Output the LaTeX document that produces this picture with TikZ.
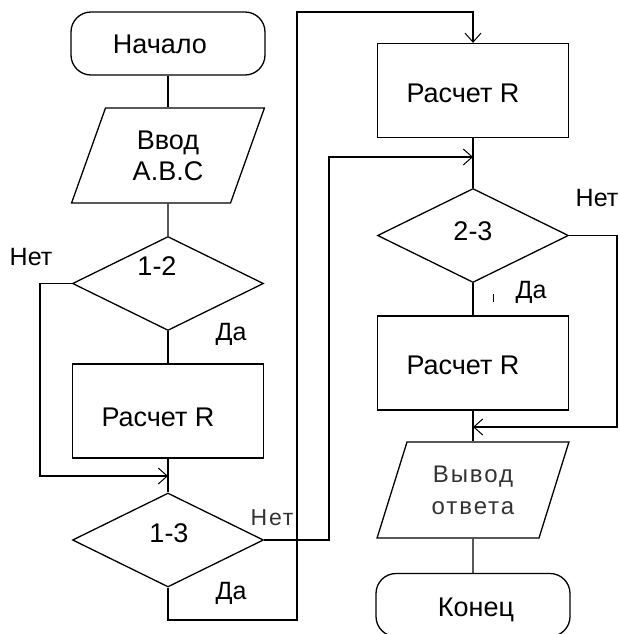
\documentclass[tikz,border=0pt]{standalone}
\usepackage{fontspec}
\setmainfont{Liberation Sans}
\newfontfamily\spacedfont[LetterSpace=8]{Liberation Sans}
\usetikzlibrary{shapes.geometric,arrows.meta}
\begin{document}
\begin{tikzpicture}[x=1pt,y=-1pt,
  font=\fontsize{26}{30}\selectfont,
  line width=1.3pt,
  every node/.style={inner sep=0pt},
  terminal/.style={draw, rectangle, rounded corners=20pt, minimum width=194pt, minimum height=63pt},
  proc/.style={draw, rectangle, minimum width=191pt, minimum height=94pt},
  io/.style={draw, trapezium, trapezium left angle=69, trapezium right angle=111,
    trapezium stretches=true, minimum width=193pt, minimum height=95pt, align=center},
  decide/.style={draw, diamond, minimum width=191pt, minimum height=94pt},
  txt/.style={font=\fontsize{27}{31}\selectfont},
  lbl/.style={font=\fontsize{25}{30}\selectfont},
  lbllight/.style={font=\spacedfont\fontsize{23}{28}\selectfont, text=black!80},
  arr/.style={-{Straight Barb[length=9pt,width=16pt,line width=1pt]}}
]
\useasboundingbox (0,0) rectangle (619,634);

% left column
\node[terminal, label={[txt,shift={(-8,1)}]center:Начало}] (start) at (168,43.5) {};
\node[io, txt] (in) at (168,155.5) {Ввод\\A.B.C};
\node[decide, label={[txt,shift={(-11,-17)}]center:1-2}] (d12) at (168,283.5) {};
\node[proc, label={[txt,shift={(-10,6)}]center:Расчет R}] (r1) at (168,411) {};
\node[decide, label={[txt,shift={(1,-7)}]center:1-3}] (d13) at (168,540) {};

% right column
\node[proc, label={[txt,shift={(-10,2.5)}]center:Расчет R}] (r2) at (473,90.5) {};
\node[decide, label={[txt,shift={(0,-4.5)}]center:2-3}] (d23) at (473,235.5) {};
\node[proc, label={[txt,shift={(-10,2)}]center:Расчет R}] (r3) at (473,363) {};
\node[io, minimum width=192pt, minimum height=96pt,
  font=\spacedfont\fontsize{24}{32}\selectfont, text=black!80] (out) at (473,490) {Вывод\\ответа};
\node[terminal, label={[txt,shift={(3,5)}]center:Конец}] (end) at (473,605) {};

% junction points
\coordinate (j1) at (168,476);
\coordinate (j2) at (473,157);
\coordinate (j3) at (473,427);

% labels
\node[lbl] (n12) at (31,257) {Нет};
\node[lbl] (y12) at (231,334) {Да};
\node[lbllight] (n13) at (272,518) {Нет};
\node[lbl] (y13) at (231,593) {Да};
\node[lbl] (n23) at (597,198) {Нет};
\node[lbl] (y23) at (531,292) {Да};
\draw[line width=1pt] (493,294) -- (493,302);

% connectors
\draw (start) -- (in);
\draw (in) -- (d12);
\draw (d12) -- (r1);
\draw (r1) -- (d13);
\draw[arr] (d12.west) -- (40,283.5) |- (j1);
\draw[arr] (d13.east) -- (329,540) |- (j2);
\draw[arr] (d13.south) -- (168,620) -- (297,620) -- (297,12) -| (r2.north);
\draw (r2) -- (d23);
\draw (d23) -- (r3);
\draw[arr] (d23.east) -- (617,235.5) |- (j3);
\draw (r3) -- (out);
\draw (out) -- (end);
\end{tikzpicture}
\end{document}
